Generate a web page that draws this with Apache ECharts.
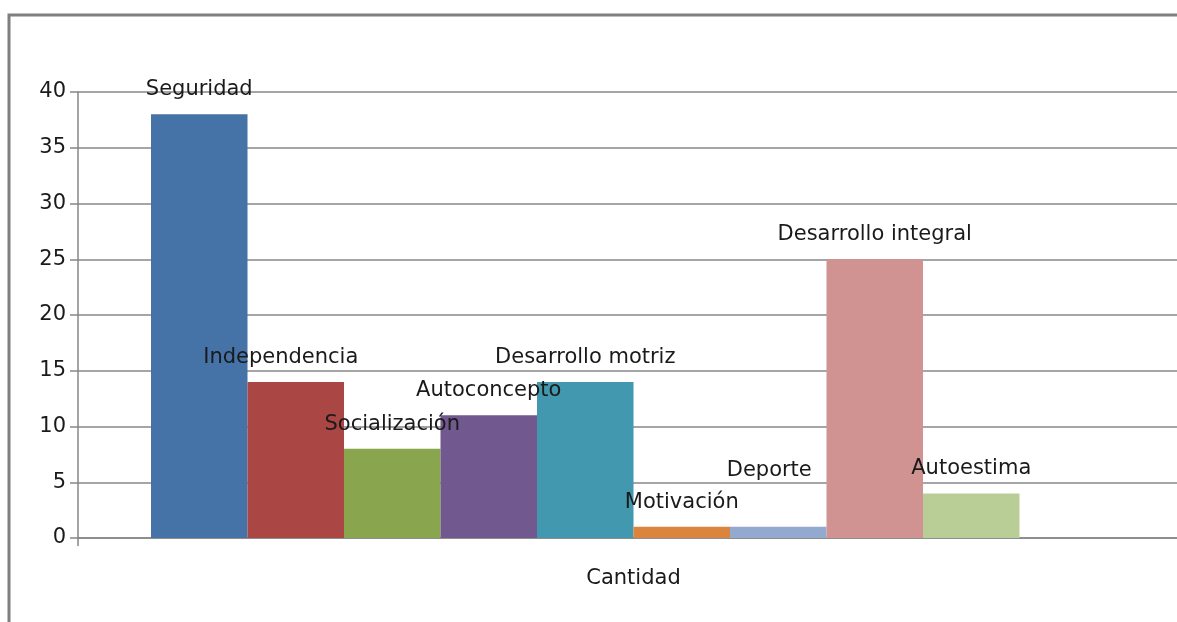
<!DOCTYPE html>
<html>
<head>
<meta charset="utf-8">
<script src="https://cdn.jsdelivr.net/npm/echarts@6/dist/echarts.min.js"></script>
<style>
  html, body { margin: 0; padding: 0; background: #fff; overflow: hidden; }
  /* el área del gráfico sigue 12px más allá del borde derecho visible */
  #chart { width: 1189px; height: 622px; }
</style>
</head>
<body>
<div id="chart"></div>
<script>
// datos del gráfico
var categorias = ['Cantidad'];
var nombres = ['Seguridad', 'Independencia', 'Socialización', 'Autoconcepto', 'Desarrollo motriz',
    'Motivación', 'Deporte', 'Desarrollo integral', 'Autoestima', ''];
var valores = [38, 14, 8, 11, 14, 1, 1, 25, 4, null];
var colores = ['#4572A7', '#AA4643', '#89A54E', '#71588F', '#4198AF',
    '#DB843D', '#93A9CF', '#D19392', '#B9CD96', '#ffffff'];
var ticksY = { min: 0, max: 40, interval: 5 };

// desplazamientos de etiquetas (movidas a mano en el original)
var offsets = [[0, 0], [-15, 0], [0, 0], [0, 0], [0, 0], [0, 0], [-9, -32], [0, 0], [0, 0], [0, 0]];

var fuente = '"DejaVu Sans", "Liberation Sans", sans-serif';

var myChart = echarts.init(document.getElementById('chart'));

var series = [];
for (var i = 0; i < nombres.length; i++) {
    series.push({
        name: nombres[i],
        type: 'bar',
        data: [valores[i]],
        barWidth: 96.5,
        barGap: '0%',
        itemStyle: { color: colores[i] },
        label: {
            show: nombres[i] !== '',
            position: 'top',
            distance: 14,
            offset: offsets[i],
            formatter: '{a}',
            color: '#1a1a1a',
            fontFamily: fuente,
            fontSize: 21
        },
        animation: false
    });
}

var option = {
    backgroundColor: '#fff',
    grid: { left: 78, right: 0, top: 92, bottom: 84 },
    xAxis: {
        type: 'category',
        data: categorias,
        axisLine: { lineStyle: { color: '#878787', width: 1.5 } },
        axisTick: { show: true, length: 8, lineStyle: { color: '#878787', width: 1.5 } },
        axisLabel: { color: '#1a1a1a', fontFamily: fuente, fontSize: 21, margin: 30 }
    },
    yAxis: {
        type: 'value',
        min: ticksY.min,
        max: ticksY.max,
        interval: ticksY.interval,
        axisLine: { show: true, lineStyle: { color: '#878787', width: 1.5 } },
        axisTick: { show: true, length: 8, lineStyle: { color: '#878787', width: 1.5 } },
        axisLabel: { color: '#1a1a1a', fontFamily: fuente, fontSize: 21, margin: 12 },
        splitLine: { lineStyle: { color: '#878787', width: 1.5 } }
    },
    graphic: [{
        type: 'polyline',
        shape: { points: [[9, 630], [9, 15], [1195, 15]] },
        style: { stroke: '#7f7f7f', lineWidth: 3, fill: null }
    }],
    series: series
};

myChart.setOption(option);
</script>
</body>
</html>
